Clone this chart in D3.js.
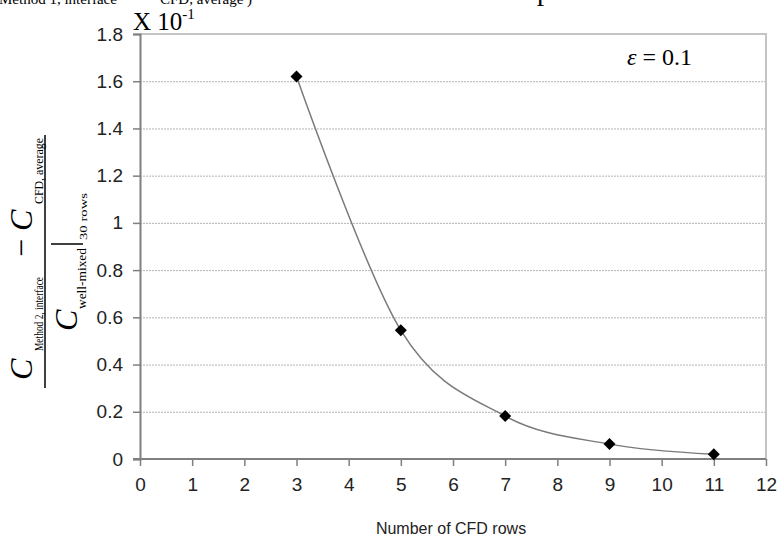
<!DOCTYPE html>
<meta charset="utf-8">
<head>
	<title>CFD rows</title>
	<script type="text/javascript" src="https://d3js.org/d3.v7.min.js"></script>
	<style>
		body { margin: 0; background: #fff; }
		.tick-label { font-family: "Liberation Sans", Arial, sans-serif; font-size: 19px; fill: #222; }
		.serif { font-family: "Liberation Serif", "Times New Roman", serif; fill: #000; }
		.grid { stroke: #b4b4b4; stroke-width: 1; stroke-dasharray: 2,1; }
	</style>
</head>
<body>
	<div id="chart"></div>
	<script>
		// data
		var rows = [3, 5, 7, 9, 11];
		var values = [1.62, 0.545, 0.182, 0.063, 0.02];
		var xTicks = [0, 1, 2, 3, 4, 5, 6, 7, 8, 9, 10, 11, 12];
		var yTicks = [0, 0.2, 0.4, 0.6, 0.8, 1, 1.2, 1.4, 1.6, 1.8];

		var width = 779, height = 542;
		var svg = d3.select("#chart").append("svg")
			.attr("width", width).attr("height", height);

		var x = d3.scaleLinear().domain([0, 12]).range([140, 766]);
		var y = d3.scaleLinear().domain([0, 1.8]).range([459, 34]);

		// remnant of the caption above the chart (cut off at the top edge, as in the source)
		svg.append("text").attr("class", "serif").attr("x", -1).attr("y", 4)
			.style("font-size", "15px").text("Method 1, interface");
		svg.append("text").attr("class", "serif").attr("x", 160).attr("y", 4)
			.style("font-size", "15px").text("CFD, average )");
		svg.append("text").attr("class", "serif").attr("x", 537).attr("y", 0)
			.style("font-size", "28px").text("p");

		// gridlines
		svg.selectAll(".grid").data(yTicks.filter(function (d) { return d > 0 && d < 1.8; }))
			.enter().append("line").attr("class", "grid")
			.attr("x1", x(0)).attr("x2", x(12))
			.attr("y1", function (d) { return y(d) + 0.5; })
			.attr("y2", function (d) { return y(d) + 0.5; });

		// frame top & right
		svg.append("path")
			.attr("d", "M" + x(0) + "," + y(1.8) + "H" + x(12) + "V" + y(0))
			.style("fill", "none").style("stroke", "#c4c4c4").style("stroke-width", 2);

		// axes
		var yAxis = d3.axisLeft(y).tickValues(yTicks).tickSize(7).tickPadding(10)
			.tickFormat(function (d) { return d3.format("")(+d.toFixed(1)); });
		var gy = svg.append("g").attr("transform", "translate(" + x(0) + ",0)").call(yAxis);
		var xAxis = d3.axisBottom(x).tickValues(xTicks).tickSize(7).tickPadding(12);
		var gx = svg.append("g").attr("transform", "translate(0," + y(0) + ")").call(xAxis);
		[gx, gy].forEach(function (g) {
			g.select(".domain").style("stroke", "#7f7f7f").style("stroke-width", 2);
			g.selectAll(".tick line").style("stroke", "#7f7f7f").style("stroke-width", 1.5);
			g.selectAll(".tick text").attr("class", "tick-label").attr("fill", null);
		});
		gx.select(".domain").attr("d", "M" + (x(0) - 7) + ",0H" + x(12));

		// curve
		var pts = rows.map(function (r, i) { return [r, values[i]]; });
		var line = d3.line()
			.x(function (d) { return x(d[0]); })
			.y(function (d) { return y(d[1]); })
			.curve(d3.curveCardinal.tension(0));
		svg.append("path").datum(pts).attr("d", line)
			.style("fill", "none").style("stroke", "#7a7a7a").style("stroke-width", 1.5);

		// diamond markers
		var sym = d3.symbol().type(d3.symbolSquare).size(72);
		svg.selectAll(".mark").data(pts).enter().append("path")
			.attr("d", sym)
			.attr("transform", function (d) { return "translate(" + x(d[0]) + "," + y(d[1]) + ") rotate(45)"; })
			.style("fill", "#000");

		// x title
		svg.append("text").attr("class", "tick-label")
			.attr("x", 451).attr("y", 534).attr("text-anchor", "middle")
			.style("font-size", "16px").text("Number of CFD rows");

		// X 10^-1
		var sc = svg.append("text").attr("class", "serif").attr("x", 133).attr("y", 30)
			.style("font-size", "25px");
		sc.append("tspan").text("X 10");
		sc.append("tspan").attr("dy", -11).style("font-size", "15px").text("-1");

		// epsilon label
		var eps = svg.append("text").attr("class", "serif").attr("x", 627).attr("y", 65)
			.style("font-size", "24px");
		eps.append("tspan").style("font-style", "italic").text("\u03b5");
		eps.append("tspan").text(" = 0.1");

		// y label as rotated fraction
		var yl = svg.append("g").attr("transform", "translate(45,262) rotate(-90)");
		function piece(txt, px, py, size, italic, len) {
			var t = yl.append("text").attr("class", "serif")
				.attr("x", px).attr("y", py).style("font-size", size + "px").text(txt);
			if (italic) t.style("font-style", "italic");
			if (len) t.attr("textLength", len).attr("lengthAdjust", "spacingAndGlyphs");
			return t;
		}
		piece("C", -118, -13, 32, true);
		piece("Method 2, interface", -89, -2, 12, false, 74);
		piece("\u2212", 5, -13, 32, false);
		piece("C", 31, -13, 32, true);
		piece("CFD, average", 58, -2, 12, false, 66);
		yl.append("line").attr("x1", -126).attr("x2", 127).attr("y1", 0).attr("y2", 0)
			.style("stroke", "#000").style("stroke-width", 1.5);
		piece("C", -69, 32, 32, true);
		piece("well-mixed", -47, 41, 12, false, 61);
		yl.append("line").attr("x1", 18).attr("x2", 18).attr("y1", 6).attr("y2", 38)
			.style("stroke", "#000").style("stroke-width", 1.5);
		piece("30 rows", 22, 42, 11, false, 47);
	</script>
</body>
</html>
